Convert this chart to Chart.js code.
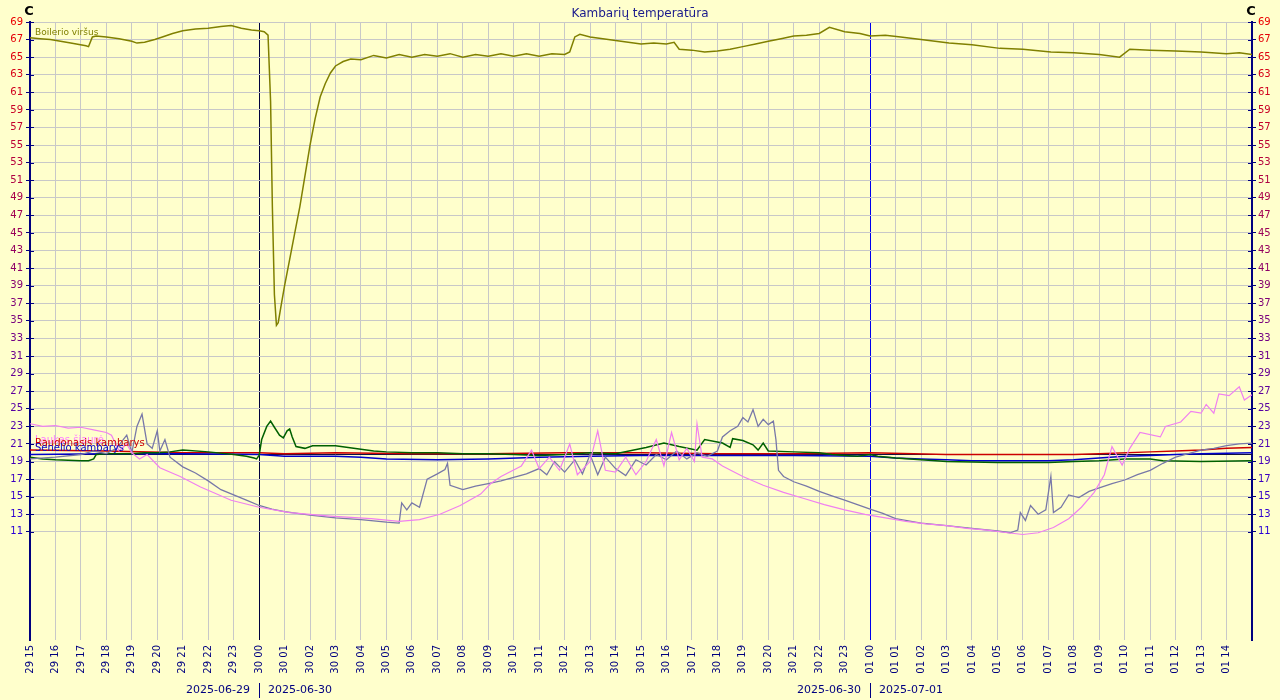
<!DOCTYPE html>
<html>
<head>
<meta charset="utf-8">
<script src="https://cdn.jsdelivr.net/npm/chart.js@4/dist/chart.umd.min.js"></script>
<style>
  html, body { margin: 0; padding: 0; background: #ffffcc; }
  #chart { display: block; }
</style>
</head>
<body>
<canvas id="chart" width="1280" height="700"></canvas>
<script>
// hours counted from 2025-06-29 15:00
const boilerHours = [0,0.4,0.8,1.2,1.6,2.2,2.3,2.45,2.6,3,3.5,4,4.2,4.5,4.9,5.2,5.6,6,6.5,7,7.5,7.9,8.3,8.7,9,9.2,9.35,9.45,9.52,9.6,9.68,9.75,9.85,10,10.2,10.4,10.6,10.8,11,11.2,11.4,11.6,11.8,12,12.3,12.6,13,13.5,14,14.5,15,15.5,16,16.5,17,17.5,18,18.5,19,19.5,20,20.5,21,21.2,21.4,21.6,22,22.5,23,23.5,24,24.5,25,25.3,25.5,26,26.5,27,27.5,28,28.5,29,29.5,30,30.5,31,31.4,32,32.6,33,33.6,34.2,35,36.1,37,38.1,39,40.1,41,42,42.8,43.2,44,45,46,47,47.5,48];
const boilerTemp  = [67.2,67.1,67.0,66.8,66.6,66.3,66.2,67.3,67.4,67.3,67.1,66.8,66.6,66.7,67.0,67.3,67.7,68.0,68.2,68.3,68.5,68.6,68.3,68.1,68.0,67.9,67.5,60,48,38,34.5,34.8,36.5,39,42,45,48,51.5,55,58,60.5,62,63.2,64,64.5,64.8,64.7,65.2,64.9,65.3,65.0,65.3,65.1,65.4,65.0,65.3,65.1,65.4,65.1,65.4,65.1,65.4,65.3,65.6,67.3,67.6,67.3,67.1,66.9,66.7,66.5,66.6,66.5,66.7,65.9,65.8,65.6,65.7,65.9,66.2,66.5,66.8,67.1,67.4,67.5,67.7,68.4,67.9,67.7,67.4,67.5,67.3,67.0,66.6,66.4,66.0,65.9,65.6,65.5,65.3,65.0,65.9,65.8,65.7,65.6,65.4,65.5,65.3];

const outdoorHours = [0,0.5,1,1.5,2,2.5,3,3.2,3.5,3.8,4,4.3,4.6,5.1,5.9,6.7,7.9,9,10.2,11.8,13.4,14.5,15.3,16.1,16.9,17.7,18.1,18.5,19.3,19.7,20,20.4,20.8,21.2,21.5,22,22.3,22.6,23,23.4,23.8,24.2,24.6,24.9,25.2,25.5,25.8,26.1,26.2,26.4,26.8,27.2,28,28.8,29.6,30.4,31.2,32,32.8,33.6,34.4,35.2,36,36.8,37.6,38.4,39,39.6,40.2,40.8,41.3,41.8,42.2,42.5,42.9,43.2,43.6,44.4,44.6,45.2,45.6,46,46.2,46.5,46.7,47.1,47.5,47.7,48];
const outdoorTemp  = [23.3,23.0,23.1,22.8,22.9,22.6,22.3,22.0,20.2,21.0,20.0,19.3,19.8,18.3,17.3,16.1,14.6,13.8,13.2,12.8,12.5,12.2,12.4,13.0,14.0,15.3,16.5,17.3,18.5,20.3,18.2,19.5,18.0,21.0,17.5,19.0,22.5,18.0,17.8,19.5,17.5,19.0,21.5,18.5,22.3,19.2,20.5,19.0,23.3,19.5,19.3,18.5,17.3,16.3,15.5,14.8,14.1,13.5,13.0,12.6,12.2,11.9,11.7,11.4,11.2,10.9,10.7,10.9,11.5,12.5,13.8,15.5,17.5,20.7,18.6,20.5,22.3,21.8,23.0,23.5,24.7,24.5,25.5,24.5,26.7,26.5,27.5,26.0,26.6];

const balconyHours = [0,1,2,2.5,3,3.4,3.8,4.0,4.2,4.4,4.6,4.8,5.0,5.1,5.3,5.5,6,6.5,7,7.5,8,8.5,9,9.5,10,11,12,13,14,14.5,14.6,14.8,15.0,15.3,15.6,16.0,16.3,16.4,16.5,17,17.5,18,18.5,19,19.5,20,20.3,20.6,21,21.4,21.7,22,22.3,22.6,23,23.4,23.8,24.2,24.6,25,25.4,25.8,26.2,26.6,27,27.2,27.5,27.8,28.0,28.2,28.4,28.6,28.8,29.0,29.2,29.3,29.4,29.6,30,30.5,31,31.5,32,32.5,33,33.5,34,35,36,37,38,38.5,38.8,38.9,39.1,39.3,39.6,39.9,40.1,40.2,40.5,40.8,41.2,41.6,42,42.5,43,43.5,44,44.5,45,45.5,46,46.5,47,47.5,48];
const balconyTemp  = [19.3,19.5,19.8,20.2,19.9,20.5,22.0,20.0,23.0,24.4,21.0,20.5,22.5,20.2,21.5,19.5,18.4,17.7,16.8,15.8,15.2,14.6,14.0,13.6,13.3,12.9,12.6,12.4,12.1,12.0,14.3,13.5,14.3,13.8,17.0,17.6,18.1,18.8,16.3,15.8,16.2,16.5,16.8,17.2,17.6,18.2,17.5,19.0,17.8,19.2,17.6,19.8,17.5,19.5,18.2,17.4,19.2,18.6,19.8,19.2,20.2,19.3,20.0,19.6,20.2,21.8,22.5,23.0,24.0,23.5,24.9,23.0,23.8,23.2,23.6,21.5,18.0,17.3,16.7,16.2,15.6,15.1,14.6,14.1,13.6,13.1,12.5,12.0,11.7,11.4,11.1,10.9,11.2,13.2,12.3,14.0,13.0,13.5,17.3,13.2,13.8,15.2,14.9,15.6,16.0,16.5,16.9,17.5,18.0,18.8,19.5,19.9,20.3,20.5,20.8,21.0,21.1];

const kitchenHours = [0,0.5,1,2,2.3,2.5,2.6,3,4,4.5,5,5.5,6,7,8,8.5,8.8,8.9,9.0,9.1,9.3,9.45,9.6,9.8,9.95,10.1,10.2,10.3,10.45,10.8,11.1,12,12.5,13,13.5,14,15,16,17,18,19,20,21,22,23,24.2,24.9,25.5,26.2,26.5,27.2,27.5,27.6,28.0,28.4,28.6,28.8,29.0,30,31,31.5,32,32.5,33,33.3,34,35,36,38,40,41,42,43,44,44.5,46,48];
const kitchenTemp  = [19.5,19.3,19.2,19.1,19.1,19.3,19.8,19.9,19.9,20.0,20.0,20.1,20.3,20.1,19.8,19.6,19.4,19.3,19.7,21.5,23.0,23.6,22.9,22.0,21.7,22.5,22.7,21.8,20.7,20.5,20.8,20.8,20.6,20.4,20.2,20.1,20.0,20.0,19.9,19.9,19.8,19.7,19.8,20.0,19.9,20.6,21.1,20.7,20.3,21.5,21.1,20.6,21.6,21.4,20.9,20.3,21.1,20.2,20.1,20.0,19.8,19.7,19.6,19.8,19.6,19.4,19.2,19.0,18.9,18.9,19.0,19.1,19.3,19.3,19.1,19.0,19.1];

const redRoomHours = [0,3,6,9,10,12,15,18,21,24,27,30,33,36,39,41,42,44,45,46,47,48];
const redRoomTemp  = [20.3,20.2,20.0,20.0,19.9,20.0,19.9,19.9,20.0,20.0,19.9,19.9,20.0,19.8,19.8,19.8,19.9,20.1,20.2,20.3,20.5,20.6];

const seniorHours = [0,3,6,9,10,12,13,14,16,18,20,22,24,27,30,33,34,35,36,37,40,41,42,43,44,45,46,48];
const seniorTemp  = [19.8,19.9,19.9,19.8,19.6,19.6,19.5,19.3,19.2,19.3,19.5,19.6,19.7,19.7,19.7,19.6,19.4,19.3,19.2,19.1,19.1,19.2,19.4,19.6,19.7,19.8,19.9,20.0];

const setpointHours = [0,48];
const setpointTemp  = [19.8,19.8];

const yTickValues = [];
for (let v = 11; v <= 69; v += 2) yTickValues.push(v);
const xTickValues = [];
for (let h = 0; h < 48; h++) xTickValues.push(h);

const days = ['2025-06-29','2025-06-30','2025-07-01'];

function pts(hs, ts) { return hs.map((h, i) => ({x: h, y: ts[i]})); }

function hourLabel(v) {
  const total = 15 + v;
  const day = total < 24 ? '29' : (total < 48 ? '30' : '01');
  const hh = String(total % 24).padStart(2, '0');
  return day + ' ' + hh;
}

function tickColor(ctx) {
  const v = ctx.tick ? ctx.tick.value : 40;
  const t = Math.max(0, Math.min(1, (69 - v) / 58));
  const r = Math.round(235 - t * 195);
  const b = Math.round(t * 215);
  return 'rgb(' + r + ',0,' + b + ')';
}

const fnt = "'DejaVu Sans', Verdana, sans-serif";

const decor = {
  id: 'decor',
  afterDraw(chart) {
    const c = chart.ctx;
    const a = chart.chartArea;
    const xs = chart.scales.x, ys = chart.scales.y;
    c.save();
    // inner tick marks on both axes
    c.strokeStyle = '#000080';
    c.lineWidth = 1;
    yTickValues.forEach(v => {
      const y = Math.round(ys.getPixelForValue(v)) + 0.5;
      c.beginPath();
      c.moveTo(a.left, y); c.lineTo(a.left + 4, y);
      c.moveTo(a.right - 4, y); c.lineTo(a.right, y);
      c.stroke();
    });
    // title and unit marks
    c.fillStyle = '#1a1a8c';
    c.font = '12px ' + fnt;
    c.textAlign = 'center';
    c.textBaseline = 'middle';
    c.fillText('Kambarių temperatūra', 640, 14);
    c.fillStyle = '#000';
    c.font = 'bold 13px ' + fnt;
    c.fillText('C', a.left - 1, 12);
    c.fillText('C', a.right - 1, 12);
    // series names
    c.textAlign = 'left';
    c.font = '9px ' + fnt;
    c.fillStyle = '#808000';
    c.fillText('Boilerio viršus', 35, 33);
    c.font = '10px ' + fnt;
    c.fillStyle = '#ff80ff';
    c.fillText('Laukas šiaurė', 35, 440);
    c.fillStyle = '#cc0000';
    c.fillText('Raudonasis kambarys', 35, 443);
    c.fillStyle = '#0000cc';
    c.fillText('Senelio kambarys', 35, 448);
    // date captions under midnight lines
    c.fillStyle = '#000080';
    c.font = '11px ' + fnt;
    [9, 33].forEach((h, i) => {
      const x = Math.round(xs.getPixelForValue(h));
      c.textAlign = 'right';
      c.fillText(days[i], x - 9, 690);
      c.textAlign = 'left';
      c.fillText(days[i + 1], x + 9, 690);
      c.beginPath();
      c.moveTo(x + 0.5, 683); c.lineTo(x + 0.5, 698);
      c.strokeStyle = '#000080';
      c.stroke();
    });
    c.restore();
  }
};

new Chart(document.getElementById('chart'), {
  type: 'line',
  data: {
    datasets: [
      {label: 'Boilerio viršus', data: pts(boilerHours, boilerTemp), borderColor: '#808000', borderWidth: 1.5},
      {label: 'Lauke', data: pts(outdoorHours, outdoorTemp), borderColor: '#f080f0', borderWidth: 1.2},
      {label: 'Balkonas', data: pts(balconyHours, balconyTemp), borderColor: '#7878a8', borderWidth: 1.3},
      {label: 'Virtuvė', data: pts(kitchenHours, kitchenTemp), borderColor: '#006000', borderWidth: 1.5},
      {label: 'Senelio kambarys', data: pts(seniorHours, seniorTemp), borderColor: '#0000cc', borderWidth: 1.5},
      {label: 'Raudonasis kambarys', data: pts(redRoomHours, redRoomTemp), borderColor: '#cc0000', borderWidth: 1.5},
      {label: 'Nustatyta', data: pts(setpointHours, setpointTemp), borderColor: '#101040', borderWidth: 1}
    ]
  },
  options: {
    responsive: false,
    animation: false,
    layout: {padding: {top: 22, left: 0, right: 0, bottom: 0}},
    elements: {point: {radius: 0}, line: {tension: 0}},
    plugins: {legend: {display: false}, tooltip: {enabled: false}},
    scales: {
      x: {
        type: 'linear', min: 0, max: 48,
        afterBuildTicks: s => { s.ticks = xTickValues.map(v => ({value: v})); },
        afterFit: s => { s.height = 60; },
        border: {display: false},
        grid: {
          drawTicks: false,
          color: ctx => ctx.tick && ctx.tick.value === 9 ? '#000040' : (ctx.tick && ctx.tick.value === 33 ? '#0000ee' : '#c8c8c8'),
          lineWidth: 1
        },
        ticks: {
          autoSkip: false, minRotation: 90, maxRotation: 90, padding: 5,
          color: '#000080', font: {family: fnt, size: 10},
          callback: v => hourLabel(v)
        }
      },
      y: {
        position: 'left', min: -1.3, max: 69,
        afterBuildTicks: s => { s.ticks = yTickValues.map(v => ({value: v})); },
        afterFit: s => { s.width = 30; },
        border: {display: true, color: '#000080', width: 2},
        grid: {color: '#c8c8c8', tickColor: '#000080', tickLength: 4},
        ticks: {padding: 3, color: tickColor, font: {family: fnt, size: 10}}
      },
      y2: {
        position: 'right', min: -1.3, max: 69,
        afterBuildTicks: s => { s.ticks = yTickValues.map(v => ({value: v})); },
        afterFit: s => { s.width = 28; },
        border: {display: true, color: '#000080', width: 2},
        grid: {drawOnChartArea: false, tickColor: '#000080', tickLength: 4},
        ticks: {padding: 2, color: tickColor, font: {family: fnt, size: 10}}
      }
    }
  },
  plugins: [decor]
});
</script>
</body>
</html>
